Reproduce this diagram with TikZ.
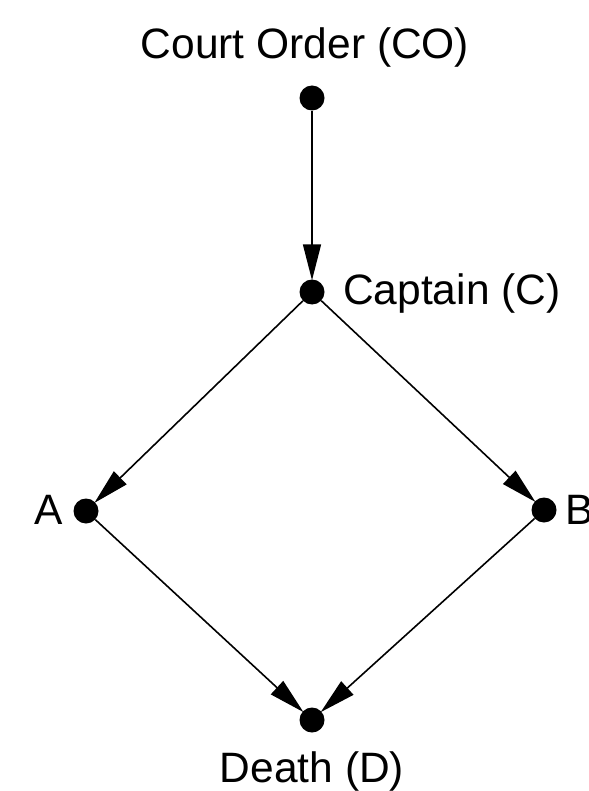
\documentclass[tikz,border=0pt]{standalone}
\usepackage{fontspec}
\setmainfont{Liberation Sans}
\usetikzlibrary{arrows.meta}
\begin{document}
\begin{tikzpicture}[x=1pt,y=-1pt,
  event/.style={circle,fill=black,inner sep=0pt,minimum size=25pt},
  lbl/.style={font=\fontsize{42.5}{48}\selectfont,inner sep=0pt},
  causes/.style={line width=1.6pt,-{Triangle[length=36pt,width=18pt]},shorten >=-1pt}]
  \useasboundingbox (0,0) rectangle (588,791);
  % events
  \node[event] (co) at (312,98) {};
  \node[event] (c)  at (312,292) {};
  \node[event] (a)  at (86,511) {};
  \node[event] (b)  at (544,510) {};
  \node[event] (d)  at (312,720) {};
  % labels
  \node[lbl] (lco) at (305,48) {Court Order (CO)};
  \node[lbl,anchor=west] (lc) at (343,294) {Captain (C)};
  \node[lbl,anchor=east] (la) at (63,510) {A};
  \node[lbl,anchor=west] (lb) at (565,510) {B};
  \node[lbl] (ld) at (312,771) {Death (D)};
  % causal links
  \draw[causes] (co) -- (c);
  \draw[causes] (c) -- (a);
  \draw[causes] (c) -- (b);
  \draw[causes] (a) -- (d);
  \draw[causes] (b) -- (d);
\end{tikzpicture}
\end{document}
